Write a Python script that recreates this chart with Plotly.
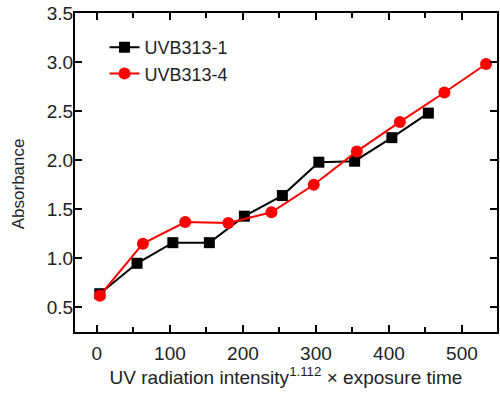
import plotly.graph_objects as go

x1 = [4, 55, 104, 154, 202, 254, 304, 353, 404, 454]
y1 = [0.64, 0.95, 1.16, 1.16, 1.43, 1.64, 1.98, 1.99, 2.23, 2.48]
x4 = [4, 63, 121, 180, 239, 297, 356, 415, 476, 533]
y4 = [0.62, 1.15, 1.37, 1.36, 1.47, 1.75, 2.09, 2.39, 2.69, 2.98]
names = ["UVB313-1", "UVB313-4"]

FONT = "Liberation Sans, Arial, sans-serif"

fig = go.Figure()
fig.add_trace(go.Scatter(x=x1, y=y1, mode="lines+markers", name=names[0],
                         line=dict(color="black", width=2),
                         marker=dict(symbol="square", size=11, color="black")))
fig.add_trace(go.Scatter(x=x4, y=y4, mode="lines+markers", name=names[1],
                         line=dict(color="#ff0000", width=2),
                         marker=dict(symbol="circle", size=12, color="#ff0000")))

fig.update_layout(
    width=500, height=394,
    margin=dict(l=75, r=1, t=13, b=62),
    paper_bgcolor="white", plot_bgcolor="white",
    font=dict(family=FONT, size=18, color="#222"),
    legend=dict(x=0.07, y=0.95, xanchor="left", yanchor="top",
                bgcolor="rgba(0,0,0,0)", font=dict(size=18, color="#222"),
                tracegroupgap=0, itemwidth=30),
    showlegend=True,
    annotations=[dict(text="Absorbance", xref="paper", yref="paper",
                      x=(18 - 75) / 424, y=(332 - 184) / 319,
                      xanchor="center", yanchor="middle", textangle=-90,
                      showarrow=False, font=dict(size=17, color="#222"))],
)
fig.update_xaxes(
    range=[-30, 548], tickvals=[0, 100, 200, 300, 400, 500],
    ticks="inside", ticklen=7, tickwidth=2, tickcolor="black",
    showline=True, linewidth=2, linecolor="black", mirror="ticks",
    showgrid=False, zeroline=False,
    minor=dict(dtick=50, tick0=0, ticks="inside", ticklen=5, tickwidth=2, tickcolor="black", showgrid=False),
    tickfont=dict(size=19, color="#222"),
    ticklabelstandoff=3,
    title=dict(text="UV radiation intensity<sup>1.112</sup> × exposure time", font=dict(size=19, color="#222"), standoff=8),
)
fig.update_yaxes(
    range=[0.25, 3.5], tickvals=[0.5, 1.0, 1.5, 2.0, 2.5, 3.0, 3.5],
    tickformat=".1f",
    ticks="inside", ticklen=7, tickwidth=2, tickcolor="black",
    showline=True, linewidth=2, linecolor="black", mirror="ticks",
    showgrid=False, zeroline=False,
    tickfont=dict(size=19, color="#222"),
    ticklabelstandoff=-4,
)

fig.write_html("out.html")
